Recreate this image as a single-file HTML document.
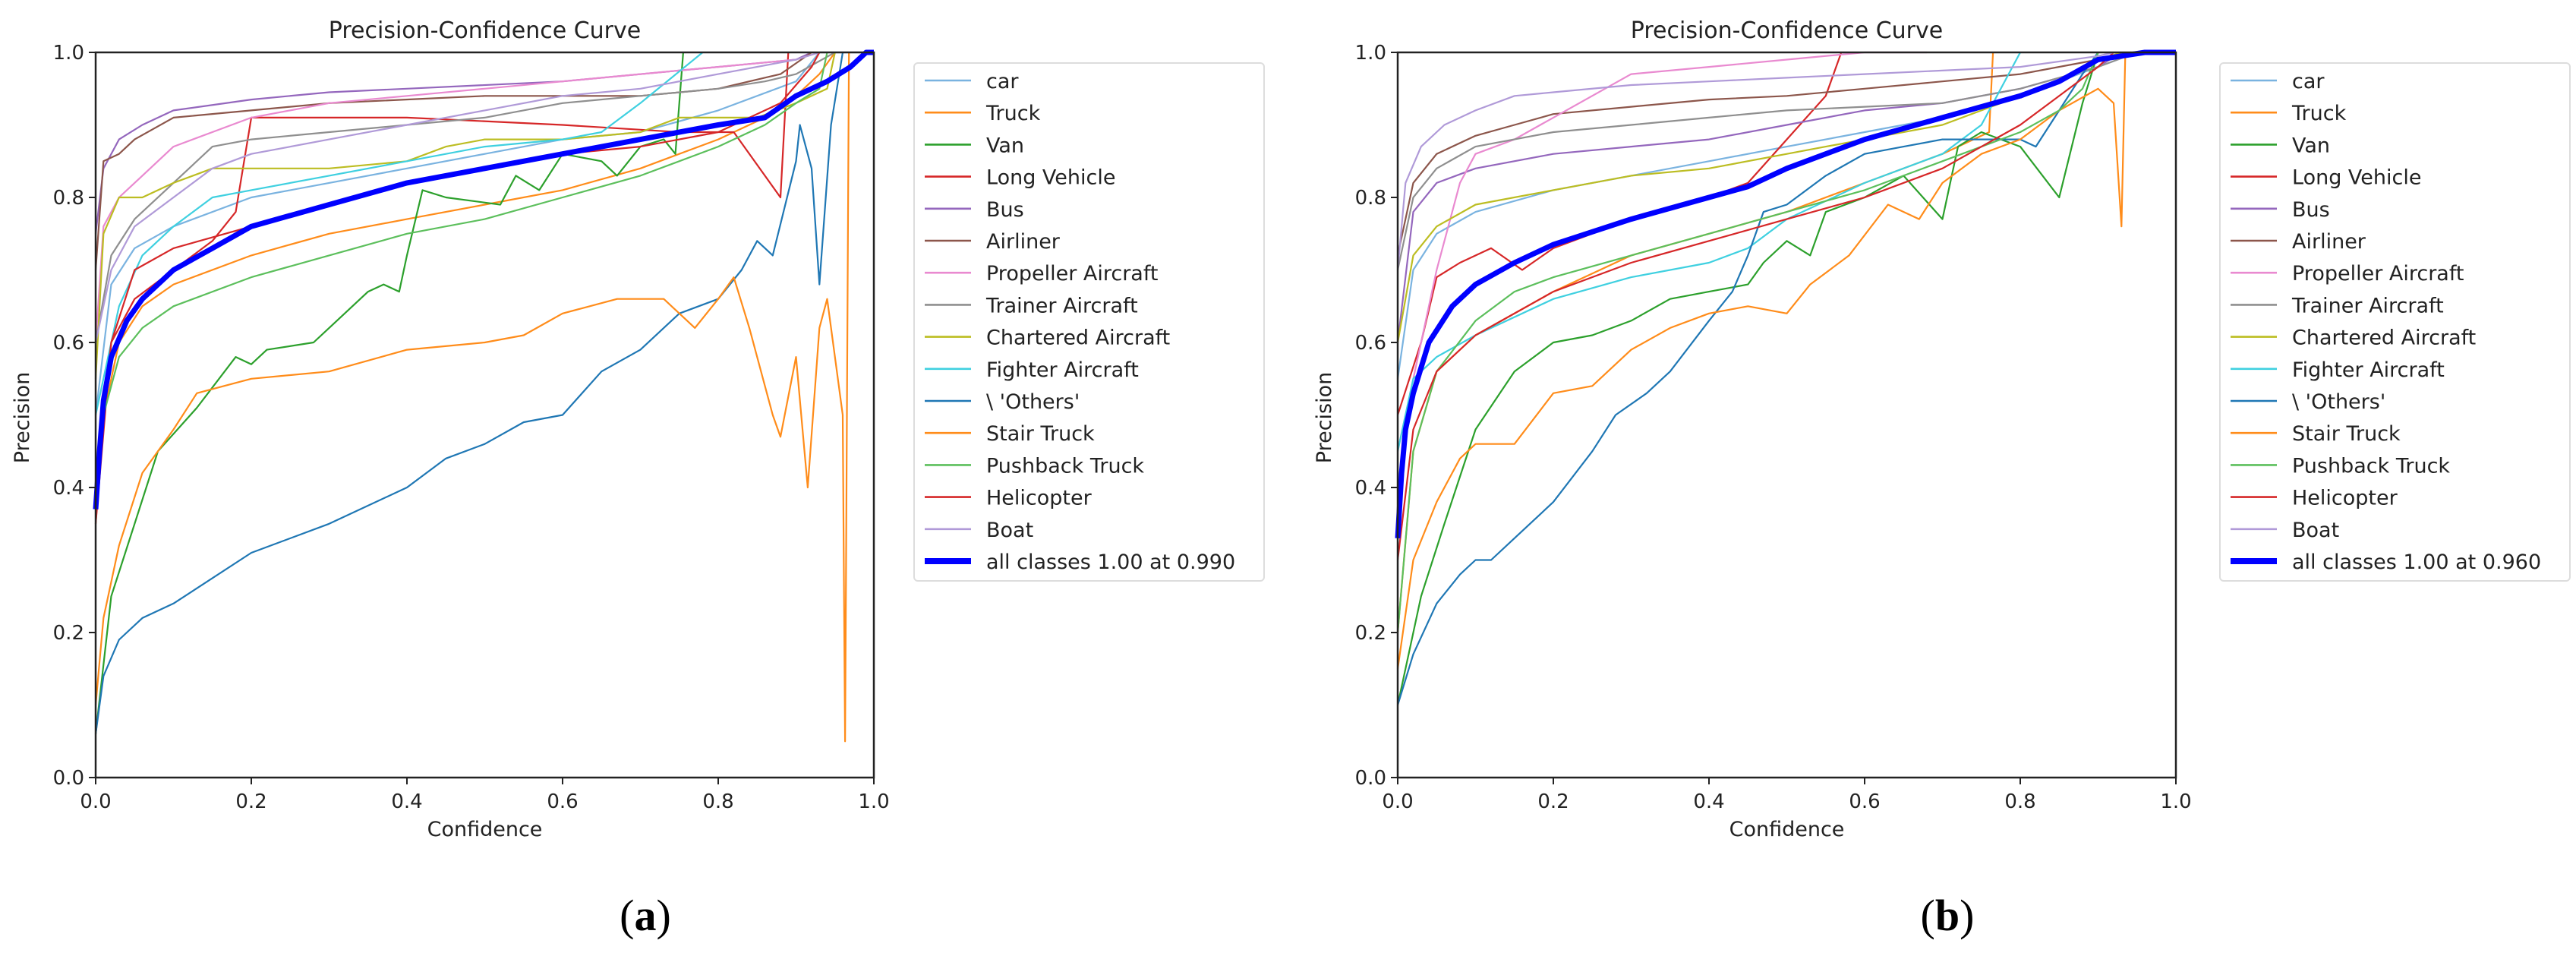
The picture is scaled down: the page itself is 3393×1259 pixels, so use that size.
<!DOCTYPE html>
<html><head><meta charset="utf-8"><style>
html,body{margin:0;padding:0;background:#fff;}
svg{display:block;font-family:"DejaVu Sans","Liberation Sans",sans-serif;}
</style></head><body>
<svg id="fig" width="3393" height="1259" viewBox="0 0 3393 1259" xmlns="http://www.w3.org/2000/svg"></svg>
<script>
const classNames=["car","Truck","Van","Long Vehicle","Bus","Airliner","Propeller Aircraft","Trainer Aircraft","Chartered Aircraft","Fighter Aircraft","\\ 'Others'","Stair Truck","Pushback Truck","Helicopter","Boat"];
const xTicks=[0,0.2,0.4,0.6,0.8,1.0];
const yTicks=[0,0.2,0.4,0.6,0.8,1.0];
const tickLabels=["0.0","0.2","0.4","0.6","0.8","1.0"];
// Chart (a)
const a_car=[[0,0.5],[0.02,0.68],[0.05,0.73],[0.1,0.76],[0.2,0.8],[0.3,0.82],[0.4,0.84],[0.5,0.86],[0.6,0.88],[0.7,0.89],[0.8,0.92],[0.9,0.96],[0.93,1.0],[1,1]];
const a_truck=[[0,0.35],[0.01,0.5],[0.03,0.6],[0.06,0.65],[0.1,0.68],[0.2,0.72],[0.3,0.75],[0.4,0.77],[0.5,0.79],[0.6,0.81],[0.7,0.84],[0.8,0.88],[0.86,0.91],[0.9,0.94],[0.93,0.97],[0.95,1.0]];
const a_van=[[0,0.06],[0.02,0.25],[0.05,0.35],[0.08,0.45],[0.13,0.51],[0.18,0.58],[0.2,0.57],[0.22,0.59],[0.28,0.6],[0.3,0.62],[0.35,0.67],[0.37,0.68],[0.39,0.67],[0.4,0.72],[0.42,0.81],[0.45,0.8],[0.52,0.79],[0.54,0.83],[0.57,0.81],[0.6,0.86],[0.65,0.85],[0.67,0.83],[0.7,0.87],[0.73,0.88],[0.745,0.86],[0.755,1.0]];
const a_long=[[0,0.35],[0.02,0.6],[0.05,0.66],[0.1,0.7],[0.15,0.74],[0.18,0.78],[0.2,0.91],[0.4,0.91],[0.6,0.9],[0.75,0.89],[0.82,0.89],[0.88,0.8],[0.89,1.0]];
const a_bus=[[0,0.75],[0.01,0.84],[0.03,0.88],[0.06,0.9],[0.1,0.92],[0.2,0.935],[0.3,0.945],[0.4,0.95],[0.6,0.96],[0.8,0.98],[0.9,0.99],[0.92,1.0]];
const a_airliner=[[0,0.7],[0.01,0.85],[0.03,0.86],[0.05,0.88],[0.1,0.91],[0.2,0.92],[0.3,0.93],[0.5,0.94],[0.7,0.94],[0.8,0.95],[0.88,0.97],[0.92,1.0]];
const a_prop=[[0,0.6],[0.01,0.76],[0.03,0.8],[0.06,0.83],[0.1,0.87],[0.2,0.91],[0.3,0.93],[0.4,0.94],[0.5,0.95],[0.6,0.96],[0.7,0.97],[0.8,0.98],[0.9,0.99],[0.93,1.0]];
const a_trainer=[[0,0.6],[0.02,0.72],[0.05,0.77],[0.1,0.82],[0.15,0.87],[0.2,0.88],[0.3,0.89],[0.4,0.9],[0.5,0.91],[0.6,0.93],[0.7,0.94],[0.8,0.95],[0.86,0.96],[0.9,0.97],[0.95,1.0]];
const a_chartered=[[0,0.55],[0.01,0.75],[0.03,0.8],[0.06,0.8],[0.1,0.82],[0.15,0.84],[0.3,0.84],[0.4,0.85],[0.45,0.87],[0.5,0.88],[0.6,0.88],[0.7,0.89],[0.75,0.91],[0.85,0.91],[0.9,0.93],[0.94,0.95],[0.95,1.0]];
const a_fighter=[[0,0.5],[0.03,0.65],[0.06,0.72],[0.1,0.76],[0.15,0.8],[0.2,0.81],[0.3,0.83],[0.4,0.85],[0.5,0.87],[0.6,0.88],[0.65,0.89],[0.7,0.93],[0.78,1.0]];
const a_others=[[0,0.06],[0.01,0.14],[0.03,0.19],[0.06,0.22],[0.1,0.24],[0.2,0.31],[0.3,0.35],[0.4,0.4],[0.45,0.44],[0.5,0.46],[0.55,0.49],[0.6,0.5],[0.65,0.56],[0.7,0.59],[0.75,0.64],[0.8,0.66],[0.83,0.7],[0.85,0.74],[0.87,0.72],[0.9,0.85],[0.905,0.9],[0.92,0.84],[0.93,0.68],[0.945,0.9],[0.96,1.0]];
const a_stair=[[0,0.1],[0.01,0.22],[0.03,0.32],[0.06,0.42],[0.1,0.48],[0.13,0.53],[0.2,0.55],[0.3,0.56],[0.4,0.59],[0.5,0.6],[0.55,0.61],[0.6,0.64],[0.67,0.66],[0.73,0.66],[0.77,0.62],[0.8,0.66],[0.82,0.69],[0.84,0.62],[0.87,0.5],[0.88,0.47],[0.9,0.58],[0.915,0.4],[0.93,0.62],[0.94,0.66],[0.96,0.5],[0.963,0.05],[0.968,1.0]];
const a_pushback=[[0,0.4],[0.01,0.5],[0.03,0.58],[0.06,0.62],[0.1,0.65],[0.2,0.69],[0.3,0.72],[0.4,0.75],[0.5,0.77],[0.6,0.8],[0.7,0.83],[0.8,0.87],[0.86,0.9],[0.9,0.93],[0.93,0.95],[0.94,1.0]];
const a_heli=[[0,0.4],[0.02,0.6],[0.05,0.7],[0.1,0.73],[0.2,0.76],[0.3,0.79],[0.4,0.82],[0.5,0.84],[0.6,0.86],[0.7,0.87],[0.8,0.89],[0.88,0.93],[0.92,0.98],[0.93,1.0]];
const a_boat=[[0,0.6],[0.02,0.7],[0.05,0.76],[0.1,0.8],[0.15,0.84],[0.2,0.86],[0.3,0.88],[0.4,0.9],[0.5,0.92],[0.6,0.94],[0.7,0.95],[0.8,0.97],[0.9,0.99],[0.93,1.0]];
const a_all=[[0,0.37],[0.005,0.45],[0.01,0.52],[0.02,0.58],[0.04,0.63],[0.06,0.66],[0.1,0.7],[0.15,0.73],[0.2,0.76],[0.3,0.79],[0.4,0.82],[0.5,0.84],[0.6,0.86],[0.7,0.88],[0.8,0.9],[0.86,0.91],[0.9,0.94],[0.94,0.96],[0.97,0.98],[0.99,1.0],[1,1]];
// Chart (b)
const b_car=[[0,0.55],[0.02,0.7],[0.05,0.75],[0.1,0.78],[0.2,0.81],[0.3,0.83],[0.4,0.85],[0.5,0.87],[0.6,0.89],[0.7,0.91],[0.8,0.94],[0.9,0.98],[0.95,1.0],[1,1]];
const b_truck=[[0,0.2],[0.02,0.45],[0.05,0.56],[0.1,0.61],[0.2,0.67],[0.3,0.72],[0.4,0.75],[0.5,0.78],[0.6,0.82],[0.7,0.86],[0.76,0.89],[0.765,1.0]];
const b_van=[[0,0.1],[0.03,0.25],[0.06,0.35],[0.1,0.48],[0.15,0.56],[0.2,0.6],[0.25,0.61],[0.3,0.63],[0.35,0.66],[0.4,0.67],[0.45,0.68],[0.47,0.71],[0.5,0.74],[0.53,0.72],[0.55,0.78],[0.6,0.8],[0.65,0.83],[0.7,0.77],[0.72,0.87],[0.75,0.89],[0.8,0.87],[0.85,0.8],[0.88,0.93],[0.9,1.0]];
const b_long=[[0,0.5],[0.03,0.6],[0.05,0.69],[0.08,0.71],[0.12,0.73],[0.16,0.7],[0.2,0.73],[0.3,0.77],[0.4,0.8],[0.45,0.82],[0.5,0.88],[0.55,0.94],[0.57,1.0]];
const b_bus=[[0,0.6],[0.02,0.78],[0.05,0.82],[0.1,0.84],[0.2,0.86],[0.3,0.87],[0.4,0.88],[0.5,0.9],[0.6,0.92],[0.7,0.93],[0.8,0.95],[0.9,0.98],[0.93,1.0]];
const b_airliner=[[0,0.72],[0.02,0.82],[0.05,0.86],[0.1,0.885],[0.15,0.9],[0.2,0.915],[0.3,0.925],[0.4,0.935],[0.5,0.94],[0.6,0.95],[0.7,0.96],[0.8,0.97],[0.9,0.99],[0.95,1.0]];
const b_prop=[[0,0.45],[0.03,0.6],[0.05,0.7],[0.08,0.82],[0.1,0.86],[0.15,0.88],[0.2,0.91],[0.3,0.97],[0.4,0.98],[0.5,0.99],[0.6,1.0],[0.68,1.0]];
const b_trainer=[[0,0.7],[0.02,0.8],[0.05,0.84],[0.1,0.87],[0.2,0.89],[0.3,0.9],[0.4,0.91],[0.5,0.92],[0.6,0.925],[0.7,0.93],[0.8,0.95],[0.9,0.98],[0.95,1.0]];
const b_chartered=[[0,0.6],[0.02,0.72],[0.05,0.76],[0.1,0.79],[0.2,0.81],[0.3,0.83],[0.4,0.84],[0.5,0.86],[0.55,0.87],[0.6,0.88],[0.7,0.9],[0.8,0.94],[0.85,0.96],[0.9,0.99],[0.93,1.0]];
const b_fighter=[[0,0.45],[0.02,0.55],[0.05,0.58],[0.1,0.61],[0.2,0.66],[0.3,0.69],[0.4,0.71],[0.45,0.73],[0.5,0.77],[0.6,0.82],[0.7,0.86],[0.75,0.9],[0.8,1.0]];
const b_others=[[0,0.1],[0.02,0.17],[0.05,0.24],[0.08,0.28],[0.1,0.3],[0.12,0.3],[0.15,0.33],[0.2,0.38],[0.25,0.45],[0.28,0.5],[0.32,0.53],[0.35,0.56],[0.4,0.63],[0.43,0.67],[0.45,0.72],[0.47,0.78],[0.5,0.79],[0.55,0.83],[0.6,0.86],[0.65,0.87],[0.7,0.88],[0.75,0.88],[0.8,0.88],[0.82,0.87],[0.85,0.92],[0.88,0.97],[0.9,1.0]];
const b_stair=[[0,0.15],[0.02,0.3],[0.05,0.38],[0.08,0.44],[0.1,0.46],[0.15,0.46],[0.2,0.53],[0.25,0.54],[0.3,0.59],[0.35,0.62],[0.4,0.64],[0.45,0.65],[0.5,0.64],[0.53,0.68],[0.58,0.72],[0.63,0.79],[0.67,0.77],[0.7,0.82],[0.75,0.86],[0.8,0.88],[0.85,0.92],[0.9,0.95],[0.92,0.93],[0.93,0.76],[0.935,1.0]];
const b_pushback=[[0,0.2],[0.02,0.45],[0.05,0.56],[0.1,0.63],[0.15,0.67],[0.2,0.69],[0.3,0.72],[0.4,0.75],[0.5,0.78],[0.6,0.81],[0.7,0.85],[0.8,0.89],[0.85,0.92],[0.88,0.95],[0.9,1.0]];
const b_heli=[[0,0.3],[0.02,0.48],[0.05,0.56],[0.1,0.61],[0.2,0.67],[0.3,0.71],[0.4,0.74],[0.5,0.77],[0.6,0.8],[0.7,0.84],[0.8,0.9],[0.85,0.94],[0.9,0.98],[0.92,1.0]];
const b_boat=[[0,0.7],[0.01,0.82],[0.03,0.87],[0.06,0.9],[0.1,0.92],[0.15,0.94],[0.2,0.945],[0.3,0.955],[0.4,0.96],[0.5,0.965],[0.6,0.97],[0.7,0.975],[0.8,0.98],[0.9,0.995],[0.92,1.0]];
const b_all=[[0,0.33],[0.005,0.42],[0.01,0.48],[0.02,0.53],[0.04,0.6],[0.07,0.65],[0.1,0.68],[0.15,0.71],[0.2,0.735],[0.3,0.77],[0.4,0.8],[0.45,0.815],[0.5,0.84],[0.6,0.88],[0.7,0.91],[0.8,0.94],[0.85,0.96],[0.9,0.99],[0.96,1.0],[1,1]];
const aSeries=[a_car,a_truck,a_van,a_long,a_bus,a_airliner,a_prop,a_trainer,a_chartered,a_fighter,a_others,a_stair,a_pushback,a_heli,a_boat];
const bSeries=[b_car,b_truck,b_van,b_long,b_bus,b_airliner,b_prop,b_trainer,b_chartered,b_fighter,b_others,b_stair,b_pushback,b_heli,b_boat];
const colors=["#7ab3e0","#ff8c1a","#2ca02c","#d62728","#9467bd","#8c564b","#e98ad0","#8f8f8f","#bcbd22","#3fd0e0","#1f77b4","#ff8c1a","#5cbf5c","#d62728","#b09ad8"];

const NS="http://www.w3.org/2000/svg";
const svg=document.getElementById('fig');
function mk(tag,attrs,parent){const e=document.createElementNS(NS,tag);for(const k in attrs)e.setAttribute(k,attrs[k]);(parent||svg).appendChild(e);return e;}

function drawChart(ox,series,allData,allLabel,legendX,tag){
  const L=ox,R=ox+1025,T=69,B=1024;
  const sx=v=>L+v*(R-L), sy=v=>B-v*(B-T);
  const g=mk('g',{});
  
  
  const t=mk('text',{x:(L+R)/2,y:50,'font-size':30,'text-anchor':'middle',fill:'#222'},g);
  t.textContent='Precision-Confidence Curve';
  
  
  series.forEach((s,i)=>{
    const p=mk('path',{d:s.map((q,j)=>(j?'L':'M')+sx(q[0]).toFixed(1)+','+sy(q[1]).toFixed(1)).join(''),fill:'none',stroke:colors[i],'stroke-width':2.2,'stroke-linejoin':'round'},g);
    
    
  });
  const pa=mk('path',{d:allData.map((q,j)=>(j?'L':'M')+sx(q[0]).toFixed(1)+','+sy(q[1]).toFixed(1)).join(''),fill:'none',stroke:'#0000ff','stroke-width':7,'stroke-linejoin':'round'},g);
  
  
  const fr=mk('rect',{x:L,y:T,width:R-L,height:B-T,fill:'none',stroke:'#222','stroke-width':2.5},g);
  
  
  xTicks.forEach((v,i)=>{
    mk('line',{x1:sx(v),x2:sx(v),y1:B,y2:B+9,stroke:'#222','stroke-width':2},g);
    const tx=mk('text',{x:sx(v),y:B+40,'font-size':26,'text-anchor':'middle',fill:'#222'},g);
    tx.textContent=tickLabels[i];
    
    
  });
  yTicks.forEach((v,i)=>{
    mk('line',{x1:L-9,x2:L,y1:sy(v),y2:sy(v),stroke:'#222','stroke-width':2},g);
    const ty=mk('text',{x:L-15,y:sy(v)+9,'font-size':26,'text-anchor':'end',fill:'#222'},g);
    ty.textContent=tickLabels[i];
    
    
  });
  const xl=mk('text',{x:(L+R)/2,y:1101,'font-size':27,'text-anchor':'middle',fill:'#222'},g);
  xl.textContent='Confidence';
  
  
  const yl=mk('text',{x:0,y:0,'font-size':27,'text-anchor':'middle',fill:'#222',transform:'translate('+(ox-88)+',550) rotate(-90)'},g);
  yl.textContent='Precision';
  
  
  // legend
  const lg=mk('g',{},g);
  
  
  mk('rect',{x:legendX,y:83,width:461,height:682,rx:5,fill:'#fff',stroke:'#ddd','stroke-width':2},lg);
  const labels=classNames.concat([allLabel]);
  labels.forEach((lab,i)=>{
    const y=106+i*42.2;
    const isAll=i===15;
    mk('line',{x1:legendX+14,x2:legendX+75,y1:y,y2:y,stroke:isAll?'#0000ff':colors[i],'stroke-width':isAll?8:2.6},lg);
    const tt=mk('text',{x:legendX+95,y:y+10,'font-size':27,fill:'#222'},lg);
    tt.textContent=lab;
    
    
  });
  const cap=mk('text',{x:tag==='a'?850:2565,y:1225,'font-size':58,'text-anchor':'middle',fill:'#000','font-family':'"Liberation Serif",serif'},svg);
  cap.innerHTML='(<tspan font-weight="bold">'+tag+'</tspan>)';
  
  
}
drawChart(126,aSeries,a_all,'all classes 1.00 at 0.990',1204,'a');
drawChart(1841,bSeries,b_all,'all classes 1.00 at 0.960',2924,'b');
</script>
</body></html>
